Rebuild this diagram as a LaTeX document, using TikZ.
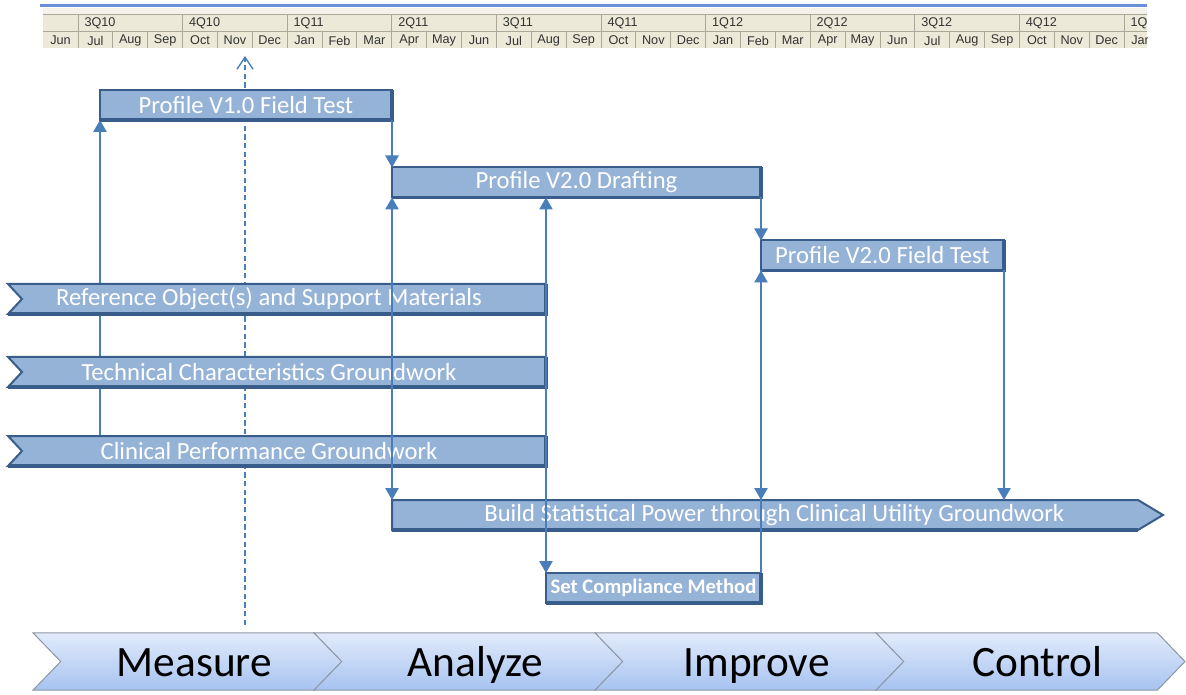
\documentclass[tikz,border=0pt]{standalone}
\usepackage{fontspec}
\setmainfont{Carlito}
\newfontfamily\hdrfont{Liberation Sans}
\usetikzlibrary{arrows.meta,shapes.symbols,backgrounds}

\definecolor{barfill}{RGB}{149,179,215}
\definecolor{bardark}{RGB}{56,93,138}
\definecolor{linkblue}{RGB}{74,126,187}
\definecolor{phasetop}{RGB}{226,235,251}
\definecolor{phasebot}{RGB}{166,195,240}
\definecolor{phaseedge}{RGB}{140,150,165}
\definecolor{hdrbg}{RGB}{236,233,216}
\definecolor{hdrlight}{RGB}{244,242,234}
\definecolor{hdrgrid}{RGB}{172,168,153}
\definecolor{hdrblue}{RGB}{106,143,216}

\tikzset{every picture/.style={line width=0.75pt}}
\tikzset{
  linktip/.tip={Triangle[width=10pt,length=9pt]},
  task/.style={fill=barfill, draw=bardark, line width=1.5pt, minimum height=22.5pt,
    inner sep=0pt, outer sep=0pt, text=white, font=\fontsize{18.5}{20}\selectfont},
  band/.style={minimum height=22.5pt, inner sep=0pt, outer sep=0pt, text=white,
    font=\fontsize{18.5}{20}\selectfont},
  bandshape/.style={fill=barfill, draw=bardark, line width=1.5pt},
  taskedge/.style={draw=bardark, line width=2.5pt},
  link/.style={draw=linkblue, line width=1.1pt},
  nowline/.style={draw=linkblue, line width=1pt, dash pattern=on 4pt off 2.5pt},
  phase/.style={shape=signal, signal from=west, signal to=east, signal pointer angle=92,
    minimum width=231.75pt, minimum height=43pt, inner sep=0pt, outer sep=0pt,
    text height=26pt, text depth=4pt,
    top color=phasetop, bottom color=phasebot, draw=phaseedge, line width=0.75pt,
    font=\fontsize{32.5}{36}\selectfont, execute at begin node=\hspace*{10.5pt}},
  hdrgridline/.style={draw=hdrgrid, line width=0.75pt},
  hdrtext/.style={inner sep=0pt, text=black!80, font=\hdrfont\fontsize{9.5}{10}\selectfont}
}

\begin{document}
\begin{tikzpicture}[x=0.75pt,y=0.75pt,yscale=-1,xscale=1]
\useasboundingbox (0,0) rectangle (1186,695);

% timeline header
\fill[hdrbg] (43,8) rectangle (1147,48);
\fill[hdrlight] (43,8) rectangle (1147,15);
\draw[hdrblue, line width=2.25pt] (40,6) -- (1147,6);
\begin{scope}
\clip (43,8) rectangle (1147,48);
\draw[hdrgridline] (43,15) -- (1147,15) (43,32) -- (1147,32);
\node[hdrtext] at (60.5,40.5) {Jun};
\foreach \m [count=\i from 0] in {Jul,Aug,Sep,Oct,Nov,Dec,Jan,Feb,Mar,Apr,May,Jun,Jul,Aug,Sep,Oct,Nov,Dec,Jan,Feb,Mar,Apr,May,Jun,Jul,Aug,Sep,Oct,Nov,Dec,Jan} {
  \draw[hdrgridline] ({78+34.87*(\i+1)},32) -- ({78+34.87*(\i+1)},48);
  \node[hdrtext] at ({78+34.87*\i+17.4},40.5) {\m};
}
\foreach \q [count=\i from 0] in {3Q10,4Q10,1Q11,2Q11,3Q11,4Q11,1Q12,2Q12,3Q12,4Q12,1Q13} {
  \draw[hdrgridline] ({78+104.6*\i},15) -- ({78+104.6*\i},48);
  \node[hdrtext, anchor=west] at ({78+104.6*\i+6},23.5) {\q};
}
\end{scope}

% tasks
\node[task, minimum width=219pt] (v1) at (246,105) {Profile V1.0 Field Test};
\node[task, minimum width=276.75pt] (draft) at (576.5,182.5) {Profile V2.0 Drafting};
\node[task, minimum width=182.25pt] (v2ft) at (882.5,255.5) {Profile V2.0 Field Test};
\node[band, minimum width=403.5pt] (refobj) at (277,299) {\hspace*{-12pt}Reference Object(s) and Support Materials};
\node[band, minimum width=403.5pt] (tech) at (277,372) {\hspace*{-12pt}Technical Characteristics Groundwork};
\node[band, minimum width=403.5pt] (clin) at (277,451) {\hspace*{-12pt}Clinical Performance Groundwork};
\node[band, minimum width=559.5pt] (build) at (765,515) {\hspace*{14pt}Build Statistical Power through Clinical Utility Groundwork};
\node[task, minimum width=161.25pt, font=\bfseries\fontsize{15.5}{17}\selectfont] (setc) at (653.5,588) {Set Compliance Method};

\foreach \n in {v1,draft,v2ft,setc}
  \draw[taskedge] (\n.south west) -- (\n.south east) -- (\n.north east);

% behind the bars
\begin{scope}[on background layer]
\coordinate (nowtop) at (245,56);
\coordinate (nowbot) at (245,625);
\draw[nowline, -{Straight Barb[width=12pt,length=9pt]}] (nowbot) -- (nowtop);
\draw[link, -linktip] (clin.north -| v1.south west) -- (v1.south west);
\foreach \n in {refobj,tech,clin} {
  \draw[bandshape] (\n.north west) -- (\n.north east) -- (\n.south east) -- (\n.south west) -- ([xshift=10.5pt]\n.west) -- cycle;
  \draw[taskedge] (\n.south west) -- (\n.south east) -- (\n.north east);
}
\draw[bandshape] (build.north west) -- (build.north east) -- ([xshift=18.75pt]build.east) -- (build.south east) -- (build.south west) -- cycle;
\draw[taskedge] (build.south west) -- (build.south east);
\end{scope}

% links
\draw[link, -linktip] (v1.south east) -- (draft.north west);
\draw[link, linktip-linktip] (draft.south west) -- (build.north west);
\draw[link, linktip-linktip] (setc.north west |- draft.south) -- (setc.north west);
\draw[link, -linktip] (draft.south east) -- (v2ft.north west);
\draw[link, -linktip] (setc.north east) -- (v2ft.south west);
\draw[link, -linktip] (v2ft.south west) -- (build.north -| v2ft.south west);
\draw[link, -linktip] (v2ft.south east) -- (build.north -| v2ft.south east);

% phases
\node[phase] (measure) at (187.5,661.5) {Measure};
\node[phase] (analyze) at (468.5,661.5) {Analyze};
\node[phase] (improve) at (749.5,661.5) {Improve};
\node[phase] (control) at (1030.5,661.5) {Control};
\end{tikzpicture}
\end{document}
